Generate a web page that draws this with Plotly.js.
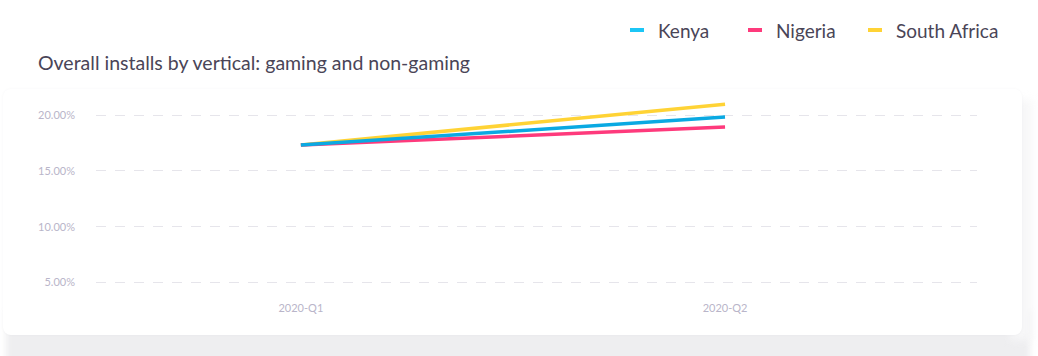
<!DOCTYPE html>
<html>
<head>
<meta charset="utf-8">
<script src="https://cdn.plot.ly/plotly-3.0.1.min.js"></script>
<style>
  html, body { margin: 0; padding: 0; background: #ffffff; width: 1038px; height: 356px; overflow: hidden; position: relative; }
  #shade { position: absolute; left: 6px; top: 310px; width: 1024px; height: 70px; background: #eeeef0;
           filter: blur(3px); }
  #sideshade { position: absolute; left: 1010px; top: 100px; width: 22px; height: 240px; background: #f7f7f8; filter: blur(4px); }
  #card { position: absolute; left: 3px; top: 89px; width: 1019px; height: 246px; background: #ffffff;
          border-radius: 8px; box-shadow: 0 0 3px rgba(40,40,70,0.04); }
  #chart { position: absolute; left: 0; top: 0; width: 1038px; height: 356px; }
</style>
</head>
<body>
<div id="shade"></div>
<div id="sideshade"></div>
<div id="card"></div>
<div id="chart"></div>
<script>
// Data (percent values)
const quarters = ["2020-Q1", "2020-Q2"];
const seriesNames = ["Kenya", "Nigeria", "South Africa"];
const kenya = [17.32, 19.82];
const nigeria = [17.32, 18.93];
const southAfrica = [17.32, 20.98];
const yTicks = [5, 10, 15, 20];
const yTickText = yTicks.map(v => v.toFixed(2) + "%");

const lineColors = ["#0aa9e2", "#fe3a7c", "#ffd335"];
const legendColors = ["#1cc6f6", "#fe3a7c", "#ffd335"];
const seriesValues = [kenya, nigeria, southAfrica];

// draw order: South Africa, Nigeria, Kenya on top as in reference
const order = [2, 1, 0];
const traces = order.map(i => ({
  type: "scatter",
  mode: "lines",
  x: quarters,
  y: seriesValues[i],
  name: seriesNames[i],
  line: { color: lineColors[i], width: 3.5 },
  hoverinfo: "x+y+name",
  showlegend: false
}));

const fontFam = "Lato, 'Open Sans', sans-serif";
const textColor = "#4a4557";
const tickColor = "#b9b5c9";

// custom legend (short swatches), built from series names
const legendX = [630, 748, 868];
const legendY = 30;
const shapes = [];
const annotations = [];
seriesNames.forEach((n, i) => {
  shapes.push({
    type: "line", xref: "paper", yref: "paper",
    x0: (legendX[i] - 96) / 881, x1: (legendX[i] + 14 - 96) / 881,
    y0: (296 - legendY) / 201, y1: (296 - legendY) / 201,
    line: { color: legendColors[i], width: 4 }
  });
  annotations.push({
    xref: "paper", yref: "paper",
    x: (legendX[i] + 26 - 96) / 881, y: (296 - legendY) / 201,
    xanchor: "left", yanchor: "middle", showarrow: false,
    text: n, font: { family: fontFam, size: 19, color: textColor }
  });
});

const layout = {
  width: 1038, height: 356,
  margin: { l: 96, r: 61, t: 95, b: 60 },
  paper_bgcolor: "rgba(0,0,0,0)",
  plot_bgcolor: "rgba(0,0,0,0)",
  showlegend: false,
  title: {
    text: "Overall installs by vertical: gaming and non-gaming",
    x: 38 / 1038, xanchor: "left", xref: "container",
    y: 1 - 63 / 356, yanchor: "middle", yref: "container",
    font: { family: fontFam, size: 19.5, color: textColor }
  },
  xaxis: {
    type: "category",
    range: [-0.483, 1.594],
    showgrid: false, zeroline: false, showline: false,
    ticks: "", ticklabelstandoff: 4,
    tickfont: { family: fontFam, size: 11, color: tickColor }
  },
  yaxis: {
    range: [3.8, 21.8],
    tickmode: "array",
    tickvals: yTicks,
    ticktext: yTickText,
    showgrid: true, gridcolor: "#e6e5eb", gridwidth: 1, griddash: "10px,9px",
    zeroline: false, showline: false, ticks: "",
    ticklabelstandoff: 20,
    tickfont: { family: fontFam, size: 11, color: tickColor }
  },
  shapes: shapes,
  annotations: annotations
};

Plotly.newPlot("chart", traces, layout, { displayModeBar: false, staticPlot: true });
</script>
</body>
</html>
